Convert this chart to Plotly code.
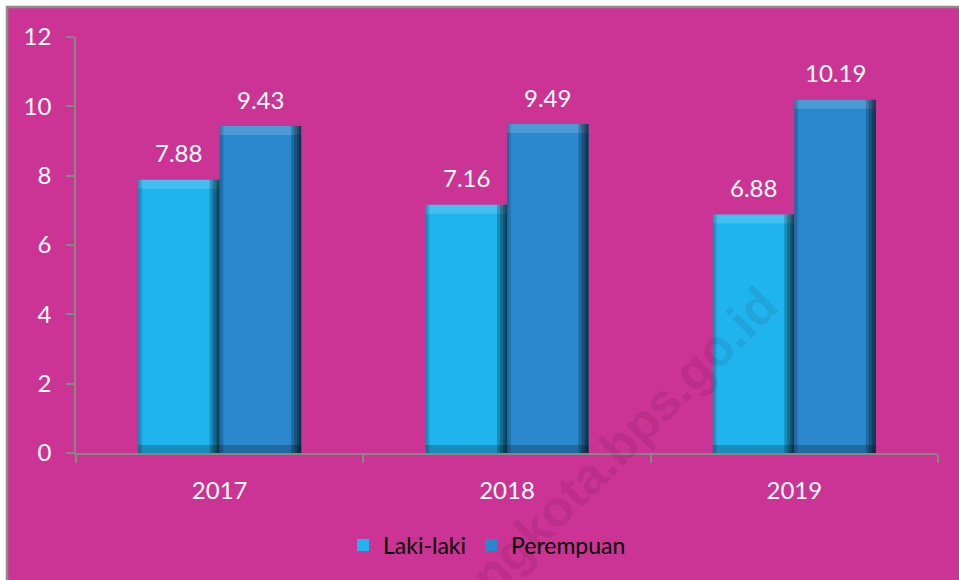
import plotly.graph_objects as go

years = ["2017", "2018", "2019"]
laki = [7.88, 7.16, 6.88]
perempuan = [9.43, 9.49, 10.19]
series_names = ["Laki-laki", "Perempuan"]
y_ticks = [0, 2, 4, 6, 8, 10, 12]

W, H = 959, 580
L, R, T, B = 76, 21, 37, 127
pw, ph = W - L - R, H - T - B
CAT_PX = pw / 3.0          # pixels per category
Y_PX = ph / 12.0           # pixels per y unit

def px_x(px):
    return (px - L) / pw

def px_y(py):
    return (H - B - py) / ph

FONT = "Lato"
MAGENTA = "#CB3494"
C_LAKI = "#20B4EE"
C_PER = "#2A88CF"
BW = 81.5 / CAT_PX          # bar width in category units

fig = go.Figure()

for vals, name, col, off in ((laki, series_names[0], C_LAKI, -BW), (perempuan, series_names[1], C_PER, 0.0)):
    fig.add_trace(go.Bar(x=years, y=vals, name=name, offset=off, width=BW,
                         marker=dict(color=col, line=dict(width=0))))
    # bevel: top light band
    tb = 9 / Y_PX
    fig.add_trace(go.Bar(x=years, y=[tb] * 3, base=[v - tb for v in vals], offset=off, width=BW,
                         marker=dict(color="rgba(255,255,255,0.16)", line=dict(width=0)),
                         showlegend=False, hoverinfo="skip"))
    # bevel: bottom dark band
    fig.add_trace(go.Bar(x=years, y=[8 / Y_PX] * 3, base=[0] * 3, offset=off, width=BW,
                         marker=dict(color="rgba(0,0,0,0.22)", line=dict(width=0)),
                         showlegend=False, hoverinfo="skip"))
    # bevel: left edge
    for wpx in (4, 2):
        fig.add_trace(go.Bar(x=years, y=vals, offset=off, width=wpx / CAT_PX,
                             marker=dict(color="rgba(0,0,0,0.12)", line=dict(width=0)),
                             showlegend=False, hoverinfo="skip"))
    # bevel: right dark edge (graded)
    for wpx in (10, 7, 4, 2):
        fig.add_trace(go.Bar(x=years, y=vals, offset=off + BW - wpx / CAT_PX, width=wpx / CAT_PX,
                             marker=dict(color="rgba(0,0,0,0.22)", line=dict(width=0)),
                             showlegend=False, hoverinfo="skip"))

# data labels (x given as category index)
for vals, shift in ((laki, -BW * CAT_PX / 2), (perempuan, BW * CAT_PX / 2)):
    for i, v in enumerate(vals):
        fig.add_annotation(x=i, y=v, xref="x", yref="y", text=f"{v:.2f}", showarrow=False, xshift=shift,
                           yshift=27, yanchor="middle",
                           font=dict(family=FONT, size=24, color="white"))

# watermark (semi-transparent, above the bars)
fig.add_annotation(x=px_x(624), y=px_y(440), xref="paper", yref="paper", text="<b>ngkota.bps.go.id</b>",
                   showarrow=False, textangle=-45, xanchor="center", yanchor="middle",
                   font=dict(family="Liberation Sans", size=51, color="rgba(40,0,30,0.09)"))

shapes = [
    dict(type="rect", xref="paper", yref="paper", x0=px_x(7), x1=px_x(975), y0=px_y(600), y1=px_y(7),
         fillcolor=MAGENTA, line=dict(color="#8C8C8C", width=2.5), layer="below"),
]

fig.update_layout(
    width=W, height=H,
    margin=dict(l=L, r=R, t=T, b=B, pad=0, autoexpand=False),
    paper_bgcolor="white", plot_bgcolor="rgba(0,0,0,0)",
    barmode="overlay",
    shapes=shapes,
    showlegend=True,
    legend=dict(orientation="h", x=px_x(487), y=px_y(545), xanchor="center", yanchor="middle",
                font=dict(family=FONT, size=23, color="black"), bgcolor="rgba(0,0,0,0)",
                itemwidth=30, traceorder="normal"),
    font=dict(family=FONT),
)
fig.update_xaxes(type="category", range=[-0.5, 2.5], automargin=False, showgrid=False, showline=True,
                 linecolor="#868686", linewidth=1.5,
                 ticks="outside", tickson="boundaries", ticklen=8, tickcolor="#868686", tickwidth=1.5,
                 tickfont=dict(family=FONT, size=24, color="white"), ticklabelstandoff=15)
fig.update_yaxes(range=[0, 12], automargin=False, tickvals=y_ticks, showgrid=False, zeroline=False, showline=True,
                 linecolor="#868686", linewidth=1.5, ticks="outside", ticklen=8, tickcolor="#868686",
                 tickwidth=1.5, tickfont=dict(family=FONT, size=24, color="white"), ticklabelstandoff=10)

fig.write_html("out.html", config={"displayModeBar": False},
               post_script="document.body.style.margin='0';")
